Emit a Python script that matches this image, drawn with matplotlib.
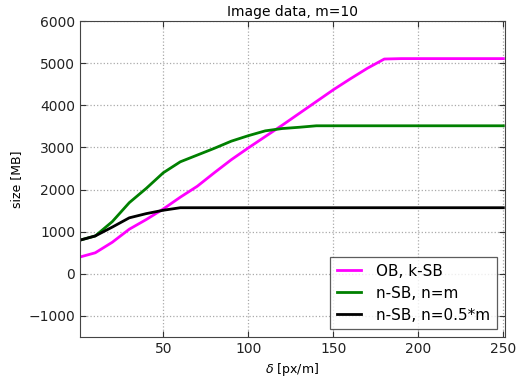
import matplotlib
matplotlib.use("Agg")
import matplotlib.pyplot as plt
import numpy as np

delta = [1, 10, 20, 30, 40, 50, 60, 70, 80, 90, 100, 110, 120, 130, 140, 150,
         160, 170, 180, 190, 200, 210, 220, 230, 240, 250]

ob_ksb = [400, 500, 750, 1060, 1290, 1540, 1820, 2080, 2400, 2710, 2990, 3260,
          3530, 3810, 4090, 4370, 4630, 4880, 5100, 5110, 5110, 5110, 5110,
          5110, 5110, 5110]
nsb_m = [800, 900, 1240, 1690, 2030, 2400, 2660, 2820, 2980, 3150, 3280, 3395,
         3450, 3480, 3515, 3515, 3515, 3515, 3515, 3515, 3515, 3515, 3515,
         3515, 3515, 3515]
nsb_half = [800, 900, 1110, 1330, 1430, 1510, 1570, 1570, 1570, 1570, 1570,
            1570, 1570, 1570, 1570, 1570, 1570, 1570, 1570, 1570, 1570, 1570,
            1570, 1570, 1570, 1570]

fig = plt.figure(figsize=(5.18, 3.77), dpi=100)
ax = fig.add_axes([0.1544, 0.106, 0.8206, 0.838])

ax.plot(delta, ob_ksb, color='magenta', lw=2, label='OB, k-SB')
ax.plot(delta, nsb_m, color='green', lw=2, label='n-SB, n=m')
ax.plot(delta, nsb_half, color='black', lw=2, label='n-SB, n=0.5*m')

ax.set_xlim(1, 251)
ax.set_ylim(-1500, 6000)
ax.set_xticks([50, 100, 150, 200, 250])
ax.set_yticks(np.arange(-1000, 6001, 1000))
ax.tick_params(direction='in', labelsize=10, length=4, top=True, right=True,
               colors='#333333', labelcolor='#222222')
for s in ax.spines.values():
    s.set_color('#444444')
ax.grid(True, linestyle=':', color='#aaaaaa', lw=0.9)

ax.set_title('Image data, m=10', fontsize=10, pad=4)
ax.set_xlabel(r'$\delta$ [px/m]', fontsize=9)
ax.set_ylabel('size [MB]', fontsize=9)

leg = ax.legend(loc='lower right', fontsize=11, fancybox=False,
                handlelength=1.6, borderaxespad=0.5, labelspacing=0.45,
                handletextpad=1.0, borderpad=0.45)
leg.get_frame().set_edgecolor('#333333')
leg.get_frame().set_linewidth(0.9)

fig.savefig('out.png', dpi=100, facecolor='white')
